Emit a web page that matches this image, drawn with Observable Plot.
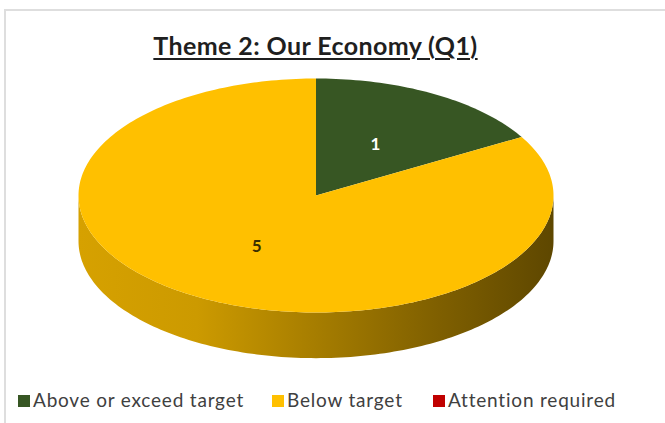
<!DOCTYPE html>
<html><head><meta charset="utf-8">
<script src="https://cdn.jsdelivr.net/npm/d3@7"></script>
<script src="https://cdn.jsdelivr.net/npm/@observablehq/plot@0.6"></script>
<style>
body{margin:0;background:#fff;width:665px;height:423px;overflow:hidden;position:relative;font-family:Lato,"Open Sans",sans-serif;}
#frame{position:absolute;left:4px;top:9px;width:670px;height:430px;border-left:2px solid #dedede;border-top:2px solid #dedede;box-sizing:border-box;}
#title{position:absolute;left:0;width:631px;top:30px;text-align:center;font-weight:bold;font-size:25px;letter-spacing:0.4px;line-height:30px;color:#1f1f1f;text-decoration:underline;text-underline-offset:3px;text-decoration-thickness:2px;}
#chart{position:absolute;left:0;top:70px;}
.sw{position:absolute;top:395px;width:12px;height:12px;}
.lab{position:absolute;top:389px;font-size:19px;letter-spacing:0.8px;color:#404040;line-height:22px;white-space:nowrap;}
</style></head>
<body>
<div id="frame"></div>
<div id="title">Theme 2: Our Economy (Q1)</div>
<div id="chart"></div>
<div id="legend"></div>
<script>
const categories = ["Above or exceed target", "Below target", "Attention required"];
const values = [1, 5, 0];
const colors = ["#375623", "#ffc000", "#c00000"];
const labelColors = ["#ffffff", "#3b2f00", "#ffffff"];

const depth = 0.39;
const data = categories.map((c, i) => ({category: c, value: values[i], color: colors[i], labelColor: labelColors[i], i}));
const arcs = d3.pie().sort(null).value(d => d.value)(data);

function arcPts(a0, a1, dy = 0) {
  const n = Math.max(2, Math.ceil((a1 - a0) / (2 * Math.PI) * 300));
  return d3.range(n + 1).map(k => {
    const a = a0 + (a1 - a0) * k / n;
    return {x: Math.sin(a), y: Math.cos(a) - dy};
  });
}

const marks = [];
// side walls (front half only)
for (const a of arcs) {
  if (a.value <= 0) continue;
  const s = Math.max(a.startAngle, Math.PI / 2), e = Math.min(a.endAngle, 3 * Math.PI / 2);
  if (e > s) {
    const pts = [...arcPts(s, e), ...arcPts(s, e, depth).reverse()];
    marks.push(Plot.line(pts, {x: "x", y: "y", fill: `url(#side${a.data.i})`, stroke: "none", curve: "linear"}));
  }
}
// top faces
for (const a of arcs) {
  if (a.value <= 0) continue;
  const pts = [{x: 0, y: 0}, ...arcPts(a.startAngle, a.endAngle), {x: 0, y: 0}];
  marks.push(Plot.line(pts, {x: "x", y: "y", fill: a.data.color, stroke: "none", curve: "linear"}));
}
// labels
const shown = arcs.filter(a => a.value > 0);
marks.push(Plot.text(shown, {
  x: a => 0.5 * Math.sin((a.startAngle + a.endAngle) / 2),
  y: a => 0.5 * Math.cos((a.startAngle + a.endAngle) / 2),
  text: a => String(a.value),
  fill: a => a.data.labelColor,
  fontWeight: "bold", fontSize: 17, fontFamily: "Lato, 'Open Sans', sans-serif"
}));

const svg = Plot.plot({
  width: 665, height: 300,
  margin: 0,
  x: {domain: [-1, 1], range: [78, 553], axis: null},
  y: {domain: [-1, 1], range: [242, 8], axis: null},
  color: {type: "identity"},
  style: {background: "transparent", overflow: "visible"},
  marks
});

const defs = d3.select(svg).insert("defs", ":first-child");
const shade = [[0, 0.84], [0.25, 0.8], [0.5, 0.65], [0.75, 0.5], [1, 0.37]];
data.forEach(d => {
  const g = defs.append("linearGradient").attr("id", `side${d.i}`).attr("x1", 0).attr("x2", 1).attr("y1", 0).attr("y2", 0);
  const base = d3.rgb(d.color);
  shade.forEach(([o, f]) => {
    g.append("stop").attr("offset", o).attr("stop-color", d3.rgb(base.r * f, base.g * f, base.b * f).formatHex());
  });
});
document.getElementById("chart").appendChild(svg);

// legend
const legendX = [18, 272, 433];
const leg = document.getElementById("legend");
categories.forEach((c, i) => {
  const sw = document.createElement("div");
  sw.className = "sw"; sw.style.left = legendX[i] + "px"; sw.style.background = colors[i];
  const lb = document.createElement("div");
  lb.className = "lab"; lb.style.left = (legendX[i] + 15) + "px"; lb.textContent = c;
  leg.appendChild(sw); leg.appendChild(lb);
});
</script>
</body></html>
